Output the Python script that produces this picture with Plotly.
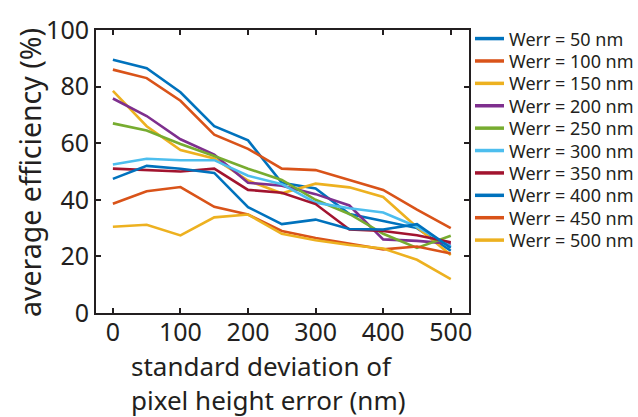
import plotly.graph_objects as go

x_vals = [0, 50, 100, 150, 200, 250, 300, 350, 400, 450, 500]

series_names = ["Werr = 50 nm", "Werr = 100 nm", "Werr = 150 nm", "Werr = 200 nm",
                "Werr = 250 nm", "Werr = 300 nm", "Werr = 350 nm", "Werr = 400 nm",
                "Werr = 450 nm", "Werr = 500 nm"]

werr_50 = [89.5, 86.5, 78, 66, 61, 46, 44, 35, 32.5, 30, 22]
werr_100 = [86, 83, 75, 63, 58, 51, 50.5, 47, 43.5, 36.5, 30]
werr_150 = [78.5, 66, 57.6, 54.6, 46.8, 42.3, 45.7, 44.4, 41, 30.3, 20.5]
werr_200 = [75.8, 69.6, 61.4, 56, 46, 45, 42, 38, 26, 25.5, 24.5]
werr_250 = [67, 64.5, 59.7, 55.5, 51, 47, 40, 35, 28, 23, 27.3]
werr_300 = [52.5, 54.5, 54, 54, 48.5, 45.5, 39, 37, 35.5, 30.5, 23.5]
werr_350 = [51, 50.5, 50, 51, 43.5, 42.5, 38.5, 29.5, 29, 27.5, 25]
werr_400 = [47.4, 52, 51, 49.5, 37.4, 31.4, 33, 29.7, 29.5, 31.4, 23]
werr_450 = [38.6, 43, 44.5, 37.5, 34.8, 29, 26.5, 24.5, 22.5, 23.5, 21]
werr_500 = [30.5, 31.2, 27.4, 33.8, 34.8, 28, 25.7, 24, 22.8, 18.8, 12]

series_values = [werr_50, werr_100, werr_150, werr_200, werr_250,
                 werr_300, werr_350, werr_400, werr_450, werr_500]

colors = ["#0072BD", "#D95319", "#EDB120", "#7E2F8E", "#77AC30",
          "#4DBEEE", "#A2142F", "#0072BD", "#D95319", "#EDB120"]

x_ticks = [0, 100, 200, 300, 400, 500]
y_ticks = [0, 20, 40, 60, 80, 100]

x_title = "standard deviation of<br>pixel height error (nm)"
y_title = "average efficiency (%)"

FONT = "Noto Sans"
TXT = "#231F20"
W, H = 638, 417
ML, MR, MT, MB = 96, 169, 16, 104
PW, PH = W - ML - MR, H - MT - MB


def px_to_paper_x(px):
    return (px - ML) / PW


def px_to_paper_y(py):
    return 1 - (py - MT) / PH


fig = go.Figure()
for name, vals, c in zip(series_names, series_values, colors):
    fig.add_trace(go.Scatter(x=x_vals, y=vals, mode="lines", name=name,
                             line=dict(color=c, width=2.6), showlegend=False))

# manual legend (to match the tight entry spacing of the original)
shapes = []
annotations = []
for i, (name, c) in enumerate(zip(series_names, colors)):
    yp = px_to_paper_y(25.0 + i * 23.5)
    shapes.append(dict(type="line", xref="paper", yref="paper",
                       x0=px_to_paper_x(475), x1=px_to_paper_x(504),
                       y0=yp, y1=yp, line=dict(color=c, width=3.5)))
    annotations.append(dict(xref="paper", yref="paper",
                            x=px_to_paper_x(507), y=yp,
                            xanchor="left", yanchor="middle", showarrow=False,
                            text=name, font=dict(family=FONT, size=18, color=TXT)))

# axis titles
annotations.append(dict(xref="paper", yref="paper", x=px_to_paper_x(129), y=px_to_paper_y(386),
                        xanchor="left", yanchor="middle", align="left", showarrow=False,
                        text=x_title, font=dict(family=FONT, size=26, color=TXT)))
annotations.append(dict(xref="paper", yref="paper", x=px_to_paper_x(30), y=px_to_paper_y(166),
                        xanchor="center", yanchor="middle", textangle=-90, showarrow=False,
                        text=y_title, font=dict(family=FONT, size=28.5, color=TXT)))

axis_common = dict(showline=True, linecolor="#231F20", linewidth=2, mirror="ticks",
                   ticks="inside", ticklen=5, tickwidth=2, tickcolor="#231F20",
                   showgrid=False, zeroline=False, ticklabeloverflow="allow",
                   tickfont=dict(family=FONT, size=25, color=TXT))

fig.update_layout(
    width=W, height=H,
    margin=dict(l=ML, r=MR, t=MT, b=MB),
    paper_bgcolor="white", plot_bgcolor="white",
    font=dict(family=FONT, color=TXT),
    xaxis=dict(range=[-25, 527], tickvals=x_ticks, ticklabelstandoff=-4, **axis_common),
    yaxis=dict(range=[0, 100], tickvals=y_ticks, **axis_common),
    shapes=shapes,
    annotations=annotations,
    showlegend=False,
)

fig.write_html("out.html")
